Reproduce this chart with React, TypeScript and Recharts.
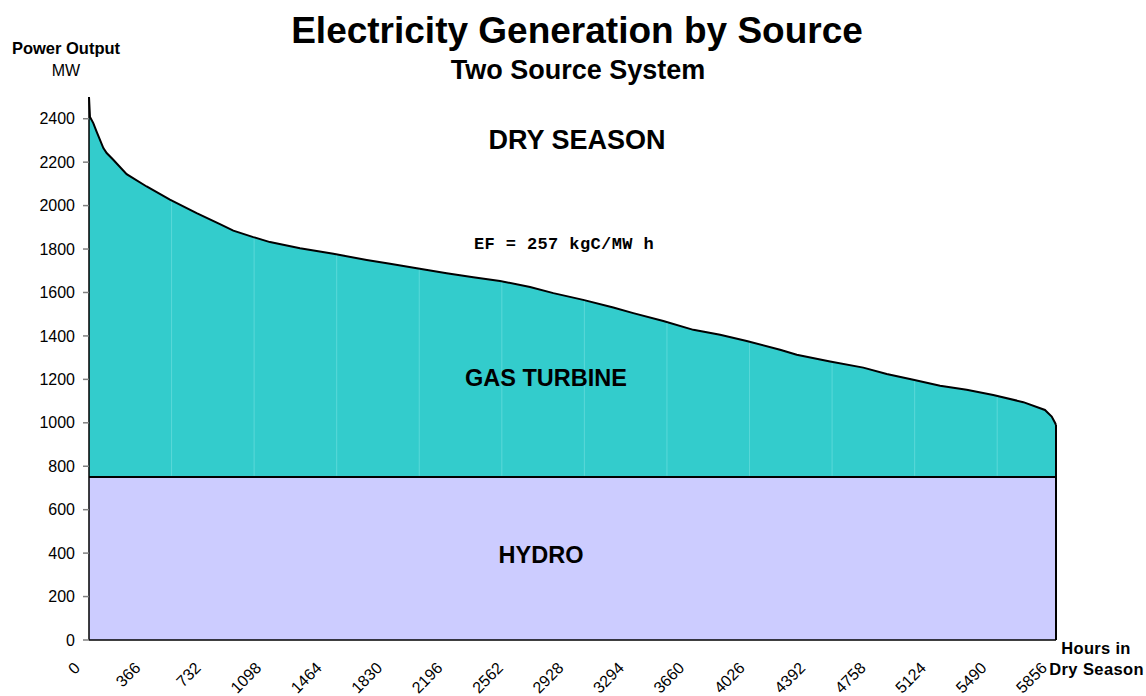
import React from "react";
import { AreaChart, Area, XAxis, YAxis, ReferenceLine } from "recharts";

const HOURS = [0, 6, 26, 46, 87, 107, 147, 228, 349, 490, 652, 793, 874, 995, 1096, 1278, 1480, 1682, 1823, 1985, 2166, 2327, 2489, 2671, 2812, 2993, 3175, 3296, 3478, 3660, 3822, 3983, 4185, 4286, 4488, 4689, 4831, 4992, 5154, 5315, 5476, 5658, 5789, 5830, 5850, 5856];
const LOAD_MW = [2500, 2408, 2380, 2341, 2265, 2242, 2211, 2145, 2088, 2027, 1965, 1915, 1885, 1855, 1832, 1804, 1778, 1750, 1732, 1712, 1689, 1670, 1653, 1625, 1597, 1566, 1531, 1505, 1469, 1428, 1405, 1377, 1336, 1313, 1282, 1254, 1225, 1198, 1171, 1152, 1128, 1095, 1059, 1029, 1000, 990];
const HYDRO_MW = 750;
const X_TICKS = [0, 366, 732, 1098, 1464, 1830, 2196, 2562, 2928, 3294, 3660, 4026, 4392, 4758, 5124, 5490, 5856];
const Y_TICKS = [0, 200, 400, 600, 800, 1000, 1200, 1400, 1600, 1800, 2000, 2200, 2400];
const FILL_LINES_H = [500, 1000, 1500, 2000, 2500, 3000, 3500, 4000, 4500, 5000, 5500];

const data = HOURS.map((h, i) => ({ h, load: LOAD_MW[i], hydro: HYDRO_MW }));

const loadAt = (h: number) => {
  for (let i = 1; i < HOURS.length; i++) {
    if (h <= HOURS[i]) {
      const t = (h - HOURS[i - 1]) / (HOURS[i] - HOURS[i - 1]);
      return LOAD_MW[i - 1] + t * (LOAD_MW[i] - LOAD_MW[i - 1]);
    }
  }
  return LOAD_MW[LOAD_MW.length - 1];
};

const FONT = "Arial, 'Liberation Sans', sans-serif";

const XTick = (props: any) => {
  const { x, y, payload } = props;
  const ax = x - 8;
  const ay = y + 29;
  return (
    <text x={ax} y={ay} transform={`rotate(-45, ${ax}, ${ay})`} textAnchor="end" fontSize={16} fontFamily={FONT} fill="#000">
      {payload.value}
    </text>
  );
};

export default function App() {
  const last = HOURS.length - 1;
  return (
    <div style={{ position: "absolute", left: 0, top: 0, width: 1146, height: 696, background: "#fff" }}>
      <AreaChart width={1146} height={696} data={data} margin={{ top: 97, right: 90, left: 0, bottom: 0 }}>
        <XAxis
          dataKey="h"
          type="number"
          domain={[0, 5856]}
          ticks={X_TICKS}
          interval={0}
          height={56}
          tickLine={false}
          tickSize={0}
          tickMargin={0}
          axisLine={{ stroke: "#000", strokeWidth: 1.5 }}
          tick={<XTick />}
        />
        <YAxis
          type="number"
          domain={[0, 2500]}
          ticks={Y_TICKS}
          interval={0}
          width={89}
          tickSize={6}
          tickMargin={8}
          tickLine={{ stroke: "#808080", strokeWidth: 1.5 }}
          axisLine={{ stroke: "#000", strokeWidth: 1.5 }}
          tick={{ fontSize: 16, fontFamily: FONT, fill: "#000" }}
        />
        <Area type="linear" dataKey="load" stroke="#000" strokeWidth={2} fill="#33CCCC" fillOpacity={1} isAnimationActive={false} dot={false} activeDot={false} />
        <Area type="linear" dataKey="hydro" stroke="#000" strokeWidth={2} fill="#CCCCFF" fillOpacity={1} isAnimationActive={false} dot={false} activeDot={false} />
        {FILL_LINES_H.map((h) => (
          <ReferenceLine key={h} segment={[{ x: h, y: HYDRO_MW + 6 }, { x: h, y: loadAt(h) - 6 }]} stroke="#5AD8D8" strokeWidth={1} />
        ))}
        <ReferenceLine segment={[{ x: HOURS[last], y: 0 }, { x: HOURS[last], y: LOAD_MW[last] }]} stroke="#000" strokeWidth={2} />
      </AreaChart>
      <svg width={1146} height={696} style={{ position: "absolute", left: 0, top: 0, pointerEvents: "none" }}>
        <text x={577} y={43} textAnchor="middle" fontSize={37} fontWeight="bold" fontFamily={FONT}>Electricity Generation by Source</text>
        <text x={578} y={79} textAnchor="middle" fontSize={27} fontWeight="bold" fontFamily={FONT}>Two Source System</text>
        <text x={66} y={54} textAnchor="middle" fontSize={16.5} fontWeight="bold" fontFamily={FONT}>Power Output</text>
        <text x={66} y={76} textAnchor="middle" fontSize={16} fontFamily={FONT}>MW</text>
        <text x={577} y={149} textAnchor="middle" fontSize={27} fontWeight="bold" fontFamily={FONT}>DRY SEASON</text>
        <text x={564} y={249} textAnchor="middle" fontSize={17} fontWeight="bold" fontFamily="'Liberation Mono', 'Courier New', monospace" letterSpacing={0.4}>EF = 257 kgC/MW h</text>
        <text x={546} y={386} textAnchor="middle" fontSize={23.5} fontWeight="bold" fontFamily={FONT}>GAS TURBINE</text>
        <text x={541} y={563} textAnchor="middle" fontSize={23.5} fontWeight="bold" fontFamily={FONT}>HYDRO</text>
        <text x={1096} y={654} textAnchor="middle" fontSize={16.5} fontWeight="bold" fontFamily={FONT} letterSpacing={0.3}>Hours in</text>
        <text x={1144} y={675} textAnchor="end" fontSize={16.5} fontWeight="bold" fontFamily={FONT} letterSpacing={0.4}>Dry Season</text>
      </svg>
    </div>
  );
}
